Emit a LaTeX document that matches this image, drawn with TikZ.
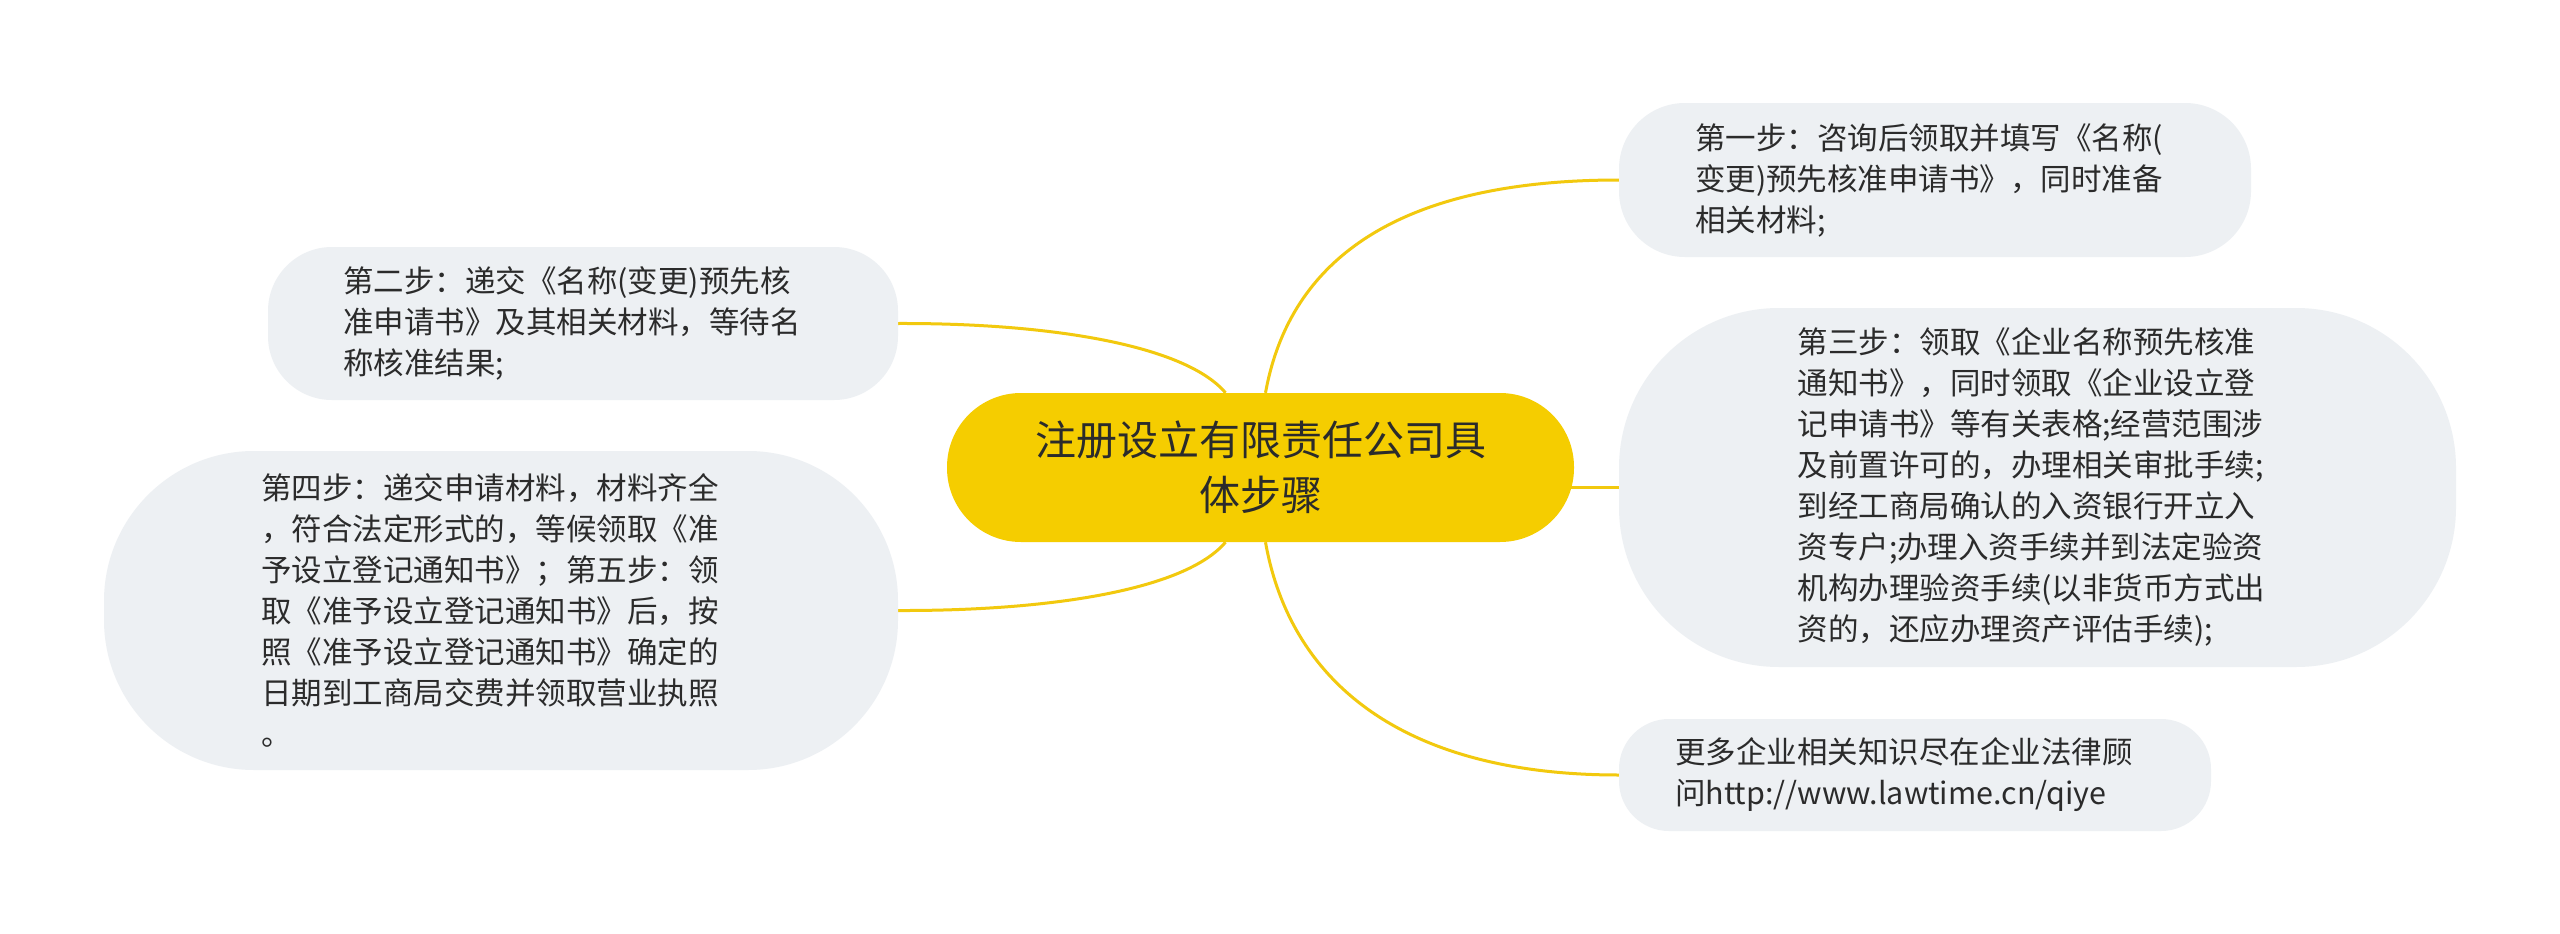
\documentclass[tikz,border=0pt]{standalone}
\usepackage{fontspec}
\newfontfamily\cjk{Noto Sans CJK SC}
\usetikzlibrary{backgrounds}
\definecolor{myyellow}{RGB}{245,205,0}
\definecolor{linkyellow}{RGB}{242,201,14}
\definecolor{mygrey}{RGB}{237,240,243}
\definecolor{mytext}{RGB}{43,43,43}
\begin{document}
\begin{tikzpicture}[x=1pt,y=-1pt,
  topic/.style={fill=myyellow, rounded corners=74pt, minimum width=627pt, minimum height=149pt,
    inner sep=0pt, align=center, text=mytext, font=\cjk\fontsize{41pt}{55pt}\selectfont},
  leaf/.style={fill=mygrey, inner sep=0pt, text width=480pt, align=left, text=mytext,
    font=\cjk\fontsize{30.5pt}{41pt}\selectfont},
  link/.style={draw=linkyellow, line width=3pt}]
\useasboundingbox (0,0) rectangle (2560,934);

\node[topic] (c) at (1260.5,467.5) {注册设立有限责任公司具\\体步骤};

\node[leaf, minimum width=632pt, minimum height=154pt, rounded corners=66pt] (n1) at (1935,180)
  {第一步：咨询后领取并填写《名称(\\变更)预先核准申请书》，同时准备\\相关材料;};

\node[leaf, minimum width=630pt, minimum height=153pt, rounded corners=64pt] (n2) at (583,323.5)
  {第二步：递交《名称(变更)预先核\\准申请书》及其相关材料，等待名\\称核准结果;};

\node[leaf, minimum width=837pt, minimum height=359pt, rounded corners=160pt] (n3) at (2037.5,487.5)
  {第三步：领取《企业名称预先核准\\通知书》，同时领取《企业设立登\\记申请书》等有关表格;经营范围涉\\及前置许可的，办理相关审批手续;\\到经工商局确认的入资银行开立入\\资专户;办理入资手续并到法定验资\\机构办理验资手续(以非货币方式出\\资的，还应办理资产评估手续);};

\node[leaf, minimum width=794pt, minimum height=319pt, rounded corners=150pt] (n4) at (501,610.5)
  {第四步：递交申请材料，材料齐全\\，符合法定形式的，等候领取《准\\予设立登记通知书》；第五步：领\\取《准予设立登记通知书》后，按\\照《准予设立登记通知书》确定的\\日期到工商局交费并领取营业执照\\。};

\node[leaf, minimum width=592pt, minimum height=112pt, rounded corners=50pt] (n5) at (1915,775)
  {更多企业相关知识尽在企业法律顾\\问http://www.lawtime.cn/qiye};

\begin{scope}[on background layer]
\fill[white] (0,0) rectangle (2560,934);
\draw[link] ([xshift=5pt]c.north) .. controls (1290,258) and (1400,180) .. (n1.west);
\draw[link] ([xshift=-35pt]c.north) .. controls (1185,345) and (1050,323) .. (n2.east);
\draw[link] (c.center |- n3.west) -- (n3.west);
\draw[link] ([xshift=-35pt]c.south) .. controls (1185,590) and (1050,611) .. (n4.east);
\draw[link] ([xshift=5pt]c.south) .. controls (1290,680) and (1400,775) .. (n5.west);
\end{scope}
\end{tikzpicture}
\end{document}
